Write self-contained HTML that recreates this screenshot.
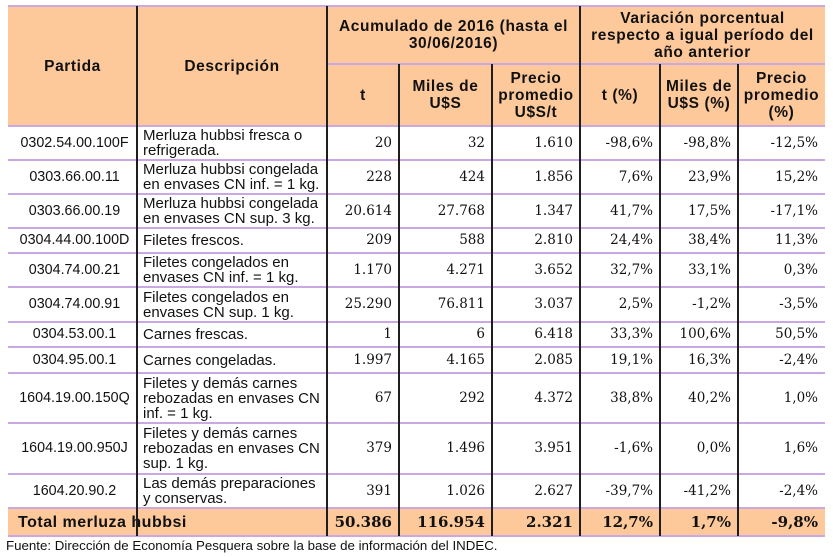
<!DOCTYPE html><html><head><meta charset="utf-8"><style>
body{margin:0;width:833px;height:557px;background:#fff;position:relative;overflow:hidden;font-family:"Liberation Sans",Arial,sans-serif;color:#111}
.c{position:absolute;display:flex;align-items:center;box-sizing:border-box;font-size:15px;line-height:15px}
.h{font-weight:bold;justify-content:center;text-align:center;font-size:15.5px;letter-spacing:0.6px;line-height:17px}
.n{justify-content:flex-end;padding-right:7px;font-family:"DejaVu Serif","Liberation Serif",serif;font-size:13.5px}
.p{justify-content:center;padding-left:4px;font-size:14.3px}
.d{padding-left:6px}
.hl{position:absolute;height:2px;background:#c9a8e4}
.vl{position:absolute;width:2px;background:#1e1e1e}
.bg{position:absolute;background:#fdc99b}
.t{font-weight:bold}
</style></head><body>
<div class="bg" style="left:8px;top:6px;width:817px;height:120px"></div>
<div class="bg" style="left:8px;top:508px;width:817px;height:28px"></div>

<div class="c h" style="left:8px;top:6px;width:129px;height:120px">Partida</div>
<div class="c h" style="left:137px;top:6px;width:190px;height:120px">Descripción</div>
<div class="c h" style="left:327px;top:6px;width:253px;height:58px">Acumulado de 2016 (hasta el<br>30/06/2016)</div>
<div class="c h" style="left:580px;top:6px;width:245px;height:58px">Variación porcentual<br>respecto a igual período del<br>año anterior</div>
<div class="c h" style="left:327px;top:64px;width:72px;height:62px">t</div>
<div class="c h" style="left:399px;top:64px;width:93px;height:62px">Miles de<br>U$S</div>
<div class="c h" style="left:492px;top:64px;width:88px;height:62px">Precio<br>promedio<br>U$S/t</div>
<div class="c h" style="left:580px;top:64px;width:80px;height:62px">t (%)</div>
<div class="c h" style="left:660px;top:64px;width:78px;height:62px">Miles de<br>U$S (%)</div>
<div class="c h" style="left:738px;top:64px;width:87px;height:62px">Precio<br>promedio<br>(%)</div>

<div id="rows"></div>
<script>
const Y=[126,160,194,228,253,287,322,347,373,423,474,508,536];
const X=[8,137,327,399,492,580,660,738,825];
const D=[
["0302.54.00.100F","Merluza hubbsi fresca o<br>refrigerada.","20","32","1.610","-98,6%","-98,8%","-12,5%"],
["0303.66.00.11","Merluza hubbsi congelada<br>en envases CN inf. = 1 kg.","228","424","1.856","7,6%","23,9%","15,2%"],
["0303.66.00.19","Merluza hubbsi congelada<br>en envases CN sup. 3 kg.","20.614","27.768","1.347","41,7%","17,5%","-17,1%"],
["0304.44.00.100D","Filetes frescos.","209","588","2.810","24,4%","38,4%","11,3%"],
["0304.74.00.21","Filetes congelados en<br>envases CN inf. = 1 kg.","1.170","4.271","3.652","32,7%","33,1%","0,3%"],
["0304.74.00.91","Filetes congelados en<br>envases CN sup. 1 kg.","25.290","76.811","3.037","2,5%","-1,2%","-3,5%"],
["0304.53.00.1","Carnes frescas.","1","6","6.418","33,3%","100,6%","50,5%"],
["0304.95.00.1","Carnes congeladas.","1.997","4.165","2.085","19,1%","16,3%","-2,4%"],
["1604.19.00.150Q","Filetes y demás carnes<br>rebozadas en envases CN<br>inf. = 1 kg.","67","292","4.372","38,8%","40,2%","1,0%"],
["1604.19.00.950J","Filetes y demás carnes<br>rebozadas en envases CN<br>sup. 1 kg.","379","1.496","3.951","-1,6%","0,0%","1,6%"],
["1604.20.90.2","Las demás preparaciones<br>y conservas.","391","1.026","2.627","-39,7%","-41,2%","-2,4%"]];
let h="";
D.forEach((r,i)=>{const t=Y[i],hh=Y[i+1]-Y[i];
for(let j=0;j<8;j++){const cls=j==0?"p":j==1?"d":"n";
h+=`<div class="c ${cls}" style="left:${X[j]}px;top:${t}px;width:${X[j+1]-X[j]}px;height:${hh}px">${r[j]}</div>`;}});
const T=["50.386","116.954","2.321","12,7%","1,7%","-9,8%"];
h+=`<div class="c t d" style="left:8px;top:508px;width:319px;height:28px;font-size:16px;letter-spacing:0.5px;padding-left:10px">Total merluza hubbsi</div>`;
T.forEach((v,k)=>{const j=k+2;h+=`<div class="c n t" style="left:${X[j]}px;top:508px;width:${X[j+1]-X[j]}px;height:28px;font-size:15px">${v}</div>`;});
[6,126,...Y.slice(1)].forEach(y=>{h+=`<div class="hl" style="left:8px;top:${y-1}px;width:817px"></div>`;});
h+=`<div class="hl" style="left:327px;top:63px;width:498px"></div>`;
[137,327,580].forEach(x=>{h+=`<div class="vl" style="left:${x-1}px;top:6px;height:530px"></div>`;});
[399,492,660,738].forEach(x=>{h+=`<div class="vl" style="left:${x-1}px;top:64px;height:472px"></div>`;});
document.getElementById("rows").innerHTML=h;
</script>
<div class="c" style="left:6px;top:537px;height:16px;font-size:13.3px">Fuente: Dirección de Economía Pesquera sobre la base de información del INDEC.</div>
</body></html>
